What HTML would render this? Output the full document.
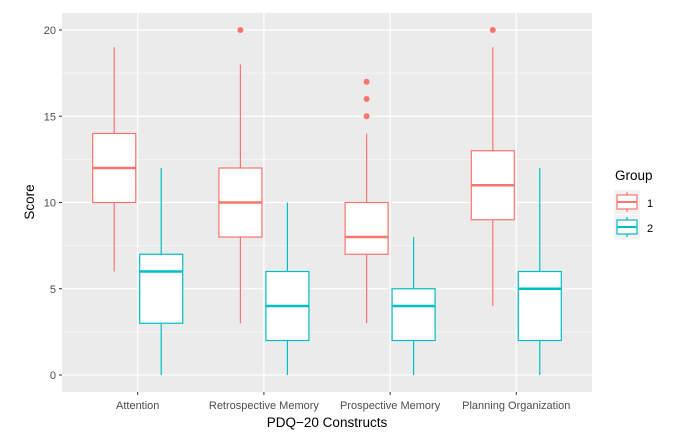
<!DOCTYPE html>
<html><head><meta charset="utf-8"><style>
body{margin:0;background:#fff;width:679px;height:442px;overflow:hidden}
text{font-family:"Liberation Sans",sans-serif}
</style></head><body>
<svg id="chart" width="679" height="442" xmlns="http://www.w3.org/2000/svg"></svg>
<script>
const categories=["Attention","Retrospective Memory","Prospective Memory","Planning Organization"];
const groups=["1","2"];
const g1Stats=[[6,10,12,14,19],[3,8,10,12,18],[3,7,8,10,14],[4,9,11,13,19]];
const g2Stats=[[0,3,6,7,12],[0,2,4,6,10],[0,2,4,5,8],[0,2,5,6,12]];
const g1Outliers=[[],[20],[15,16,17],[20]];
const g2Outliers=[[],[],[],[]];
const yTicks=[0,5,10,15,20];
const colors=["#F8766D","#00BFC4"];
const NS="http://www.w3.org/2000/svg";
const svg=document.getElementById("chart");
const L=62,R=592,T=13,B=392;
const y=v=>375-(v/20)*345;
const step=(R-L)/(categories.length-1+1.2);
const x=i=>L+step*(i+0.6);
function mk(tag,a,parent){const e=document.createElementNS(NS,tag);for(const k in a)e.setAttribute(k,a[k]);(parent||svg).appendChild(e);return e;}
const bg=mk("rect",{x:L,y:T,width:R-L,height:B-T,fill:"#EBEBEB"});


for(let i=0;i<yTicks.length-1;i++){mk("line",{x1:L,x2:R,y1:y((yTicks[i]+yTicks[i+1])/2),y2:y((yTicks[i]+yTicks[i+1])/2),stroke:"#fff","stroke-width":0.6});}
yTicks.forEach(t=>{
  const g=mk("line",{x1:L,x2:R,y1:y(t),y2:y(t),stroke:"#fff","stroke-width":1.2});
  
  
  mk("line",{x1:L-3,x2:L,y1:y(t),y2:y(t),stroke:"#333","stroke-width":1});
  const tx=mk("text",{x:L-6,y:y(t)+4,"text-anchor":"end","font-size":11,fill:"#4D4D4D"});tx.textContent=t;
  
  
});
categories.forEach((c,i)=>{
  const g=mk("line",{x1:x(i),x2:x(i),y1:T,y2:B,stroke:"#fff","stroke-width":1.2});
  
  
  mk("line",{x1:x(i),x2:x(i),y1:B,y2:B+3,stroke:"#333","stroke-width":1});
  const tx=mk("text",{x:x(i),y:B+17,"text-anchor":"middle","font-size":11,fill:"#4D4D4D"});tx.textContent=c;
  
  
});
const dodge=23.5,bw=43;
[g1Stats,g2Stats].forEach((stats,gi)=>{
  const outs=gi===0?g1Outliers:g2Outliers;
  stats.forEach((s,i)=>{
    const cx=x(i)+(gi===0?-dodge:dodge),col=colors[gi];
    const g=mk("g",{});
    
    
    mk("line",{x1:cx,x2:cx,y1:y(s[0]),y2:y(s[1]),stroke:col,"stroke-width":1.2},g);
    mk("line",{x1:cx,x2:cx,y1:y(s[3]),y2:y(s[4]),stroke:col,"stroke-width":1.2},g);
    mk("rect",{x:cx-bw/2,y:y(s[3]),width:bw,height:y(s[1])-y(s[3]),fill:"#fff",stroke:col,"stroke-width":1.2},g);
    mk("line",{x1:cx-bw/2,x2:cx+bw/2,y1:y(s[2]),y2:y(s[2]),stroke:col,"stroke-width":2.4},g);
    outs[i].forEach(o=>{
      const p=mk("circle",{cx:cx,cy:y(o),r:3,fill:col},g);
      
      
    });
  });
});
const yt=mk("text",{x:0,y:0,transform:"translate(34,202) rotate(-90)","text-anchor":"middle","font-size":13.5,fill:"#000"});yt.textContent="Score";


const xt=mk("text",{x:327,y:427,"text-anchor":"middle","font-size":13.5,fill:"#000"});xt.textContent="PDQ\u221220 Constructs";


const lt=mk("text",{x:615,y:180,"font-size":13.5,fill:"#000"});lt.textContent="Group";


groups.forEach((gname,gi)=>{
  const ky=190+gi*25,col=colors[gi];
  const g=mk("g",{});
  
  
  mk("rect",{x:614,y:ky,width:26,height:24,fill:"#F2F2F2"},g);
  mk("line",{x1:627,x2:627,y1:ky+2,y2:ky+22,stroke:col,"stroke-width":1.2},g);
  mk("rect",{x:617,y:ky+5,width:20,height:14,fill:"#fff",stroke:col,"stroke-width":1.2},g);
  mk("line",{x1:617,x2:637,y1:ky+12,y2:ky+12,stroke:col,"stroke-width":2},g);
  const t=mk("text",{x:647,y:ky+17,"font-size":11,fill:"#000"},g);t.textContent=gname;
});
</script>
</body></html>
